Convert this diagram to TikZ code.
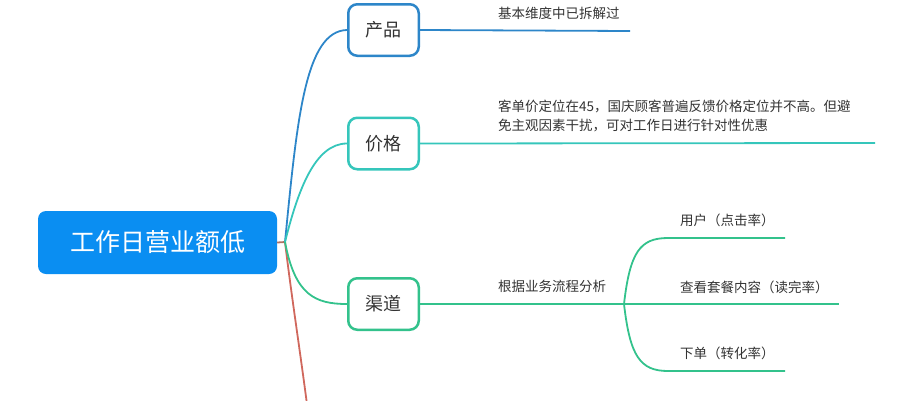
\documentclass[tikz,border=0pt]{standalone}
\usepackage{fontspec}
\setmainfont{Noto Sans CJK SC}
\definecolor{rootblue}{HTML}{0A8EF2}
\definecolor{cblue}{HTML}{2D86C9}
\definecolor{cteal}{HTML}{35C6BB}
\definecolor{cgreen}{HTML}{33C28C}
\definecolor{cred}{HTML}{D0685D}
\definecolor{cstub}{HTML}{B07262}
\definecolor{txt}{HTML}{333333}
\begin{document}
\begin{tikzpicture}[x=1pt,y=-1pt,
  box/.style={draw, line width=2.5pt, rounded corners=9pt, fill=white,
    minimum width=70.5pt, minimum height=51.5pt,
    font=\fontsize{18}{20}\selectfont, text=txt},
  lbl/.style={anchor=west, inner sep=0pt, font=\fontsize{13.5}{19}\selectfont,
    text=txt, align=left},
  conn/.style={line width=1.8pt}]
\useasboundingbox (0,0) rectangle (909,400);
\clip (0,0) rectangle (909,400);
% nodes
\node[fill=rootblue, rounded corners=8pt, minimum width=239pt, minimum height=63pt,
  text=white, font=\fontsize{25}{28}\selectfont] (root) at (157.5,242.5) {工作日营业额低};
\node[box, draw=cblue] (prod) at (383.5,30) {产品};
\node[box, draw=cteal] (price) at (383.5,143.5) {价格};
\node[box, draw=cgreen] (chan) at (383.5,304) {渠道};
% coordinates
\coordinate (j) at (285,242);
\coordinate (prodend) at (630,31);
\coordinate (priceend) at (875,143);
\coordinate (k) at (624,304);
\coordinate (redend) at (308,412);
\coordinate (u1) at (668,238);
\coordinate (u2) at (785,238);
\coordinate (m2) at (839,304);
\coordinate (d1) at (668,371);
\coordinate (d2) at (785,371);
% connectors
\draw[conn, cstub] (root.east) -- (j);
\draw[conn, cred] (j) .. controls (292,300) and (300,350) .. (redend);
\draw[conn, cblue] (j) .. controls (297,120) and (305,31) .. (prod.west);
\draw[conn, cteal] (j) .. controls (298,190) and (315,143.5) .. (price.west);
\draw[conn, cgreen] (j) .. controls (295,295) and (315,304) .. (chan.west);
\draw[conn, cblue] (prod.east) -- (prodend);
\draw[conn, cteal] (price.east) -- (priceend);
\draw[conn, cgreen] (chan.east) -- (k);
\draw[conn, cgreen] (k) .. controls (630,252) and (640,238) .. (u1) -- (u2);
\draw[conn, cgreen] (k) -- (m2);
\draw[conn, cgreen] (k) .. controls (630,356) and (640,371) .. (d1) -- (d2);
% labels
\node[lbl] (t1) at (498,13) {基本维度中已拆解过};
\node[lbl] (t2) at (498,115.5) {客单价定位在45，国庆顾客普遍反馈价格定位并不高。但避\\免主观因素干扰，可对工作日进行针对性优惠};
\node[lbl] (t3) at (498,286) {根据业务流程分析};
\node[lbl] (s1) at (680,220) {用户（点击率）};
\node[lbl] (s2) at (680,287) {查看套餐内容（读完率）};
\node[lbl] (s3) at (680,353) {下单（转化率）};
\end{tikzpicture}
\end{document}
